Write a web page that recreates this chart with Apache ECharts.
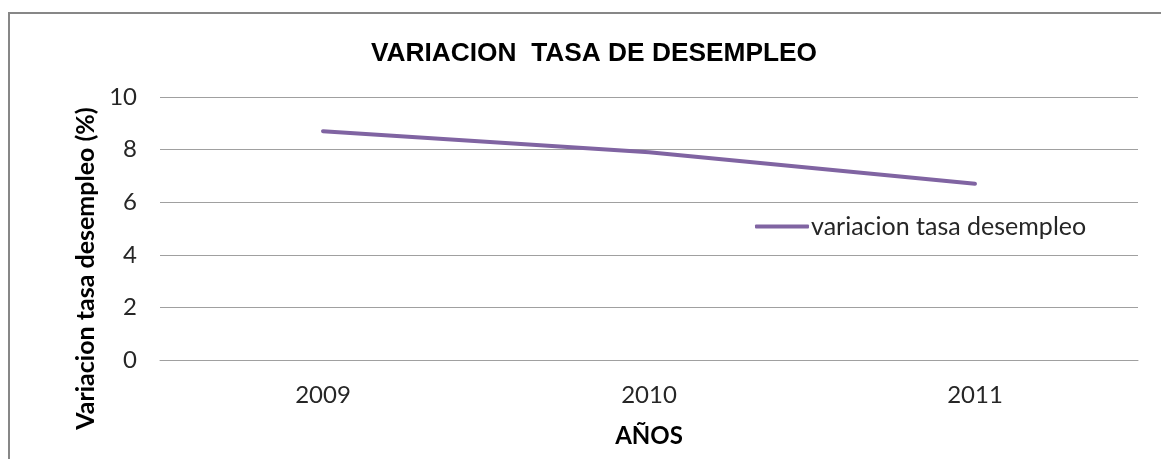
<!DOCTYPE html>
<html>
<head>
<meta charset="utf-8">
<script src="https://cdn.jsdelivr.net/npm/echarts@6/dist/echarts.min.js"></script>
<style>
  html, body { margin: 0; padding: 0; background: #fff; }
  #chart { width: 1161px; height: 459px; }
</style>
</head>
<body>
<div id="chart"></div>
<script>
// data
var years = ['2009', '2010', '2011'];
var tasa = [8.7, 7.9, 6.7];
var seriesName = 'variacion tasa desempleo';

var chart = echarts.init(document.getElementById('chart'));

var option = {
  backgroundColor: '#fff',
  animation: false,
  graphic: [{
    type: 'rect',
    shape: { x: 9, y: 13, width: 1200, height: 500 },
    style: { fill: 'none', stroke: '#878787', lineWidth: 2 },
    silent: true
  }],
  title: {
    text: 'VARIACION  TASA DE DESEMPLEO',
    left: 589,
    textAlign: 'center',
    top: 36,
    textStyle: { fontFamily: 'Liberation Sans', fontWeight: 'bold', fontSize: 26.3, color: '#000' }
  },
  legend: {
    data: [seriesName],
    left: 755,
    top: 214,
    padding: 0,
    icon: 'roundRect',
    itemWidth: 54,
    itemHeight: 4,
    itemGap: 0,
    textStyle: { fontFamily: 'Lato', fontSize: 25, color: '#262626', padding: [0, 0, 0, -3] }
  },
  grid: { left: 160, right: 23, top: 97, bottom: 99 },
  xAxis: {
    type: 'category',
    data: years,
    boundaryGap: true,
    name: 'AÑOS',
    nameLocation: 'middle',
    nameGap: 64,
    nameTextStyle: { fontFamily: 'Lato', fontWeight: 'bold', fontSize: 24, color: '#000' },
    axisLine: { lineStyle: { color: '#a0a0a0', width: 1 } },
    axisTick: { show: false },
    axisLabel: { fontFamily: 'Lato', fontSize: 24, color: '#262626', margin: 23 }
  },
  yAxis: {
    type: 'value',
    min: 0,
    max: 10,
    interval: 2,
    name: 'Variacion tasa desempleo (%)',
    nameLocation: 'middle',
    nameGap: 61,
    nameTextStyle: { fontFamily: 'Lato', fontWeight: 'bold', fontSize: 25, color: '#000', padding: [0, 80, 0, 0] },
    axisLine: { show: false },
    axisTick: { show: false },
    axisLabel: { fontFamily: 'Lato', fontSize: 24, color: '#262626', margin: 23 },
    splitLine: { lineStyle: { color: '#a0a0a0', width: 1 } }
  },
  series: [{
    name: seriesName,
    type: 'line',
    data: tasa,
    symbol: 'none',
    lineStyle: { color: '#8064A2', width: 4, cap: 'round' },
    itemStyle: { color: '#8064A2' }
  }]
};

chart.setOption(option);
</script>
</body>
</html>
